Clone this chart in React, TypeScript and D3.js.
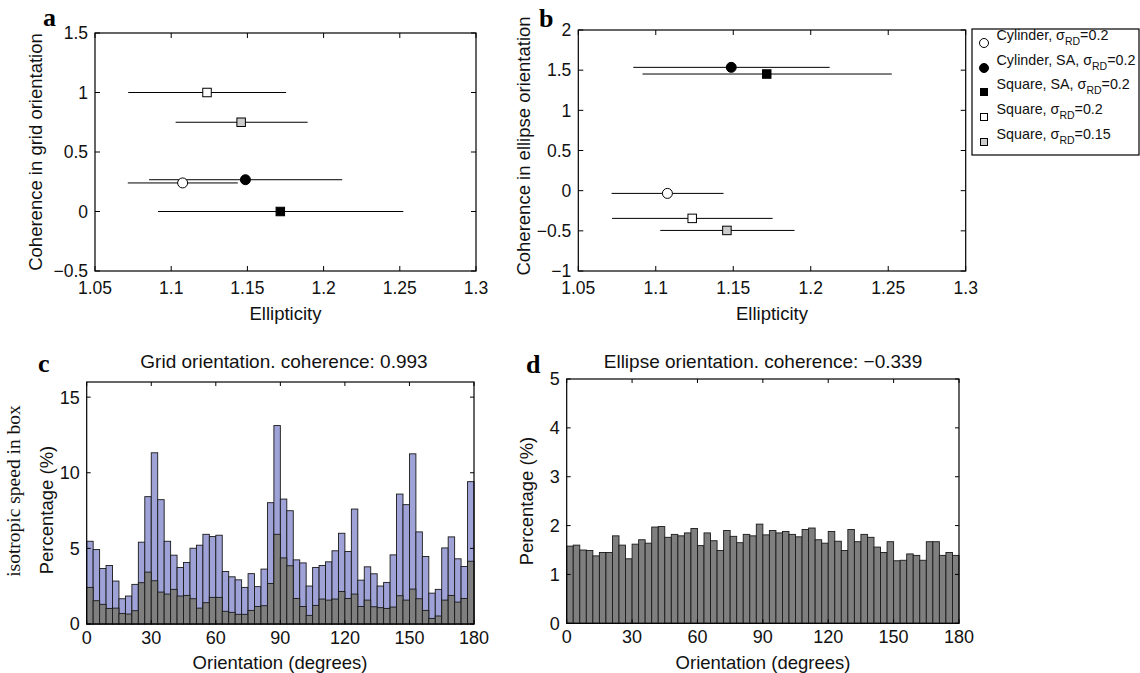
import React from 'react';
import * as d3 from 'd3';

// ---------- Panels a & b data ----------
const seriesNames = ['Cylinder, ', 'Cylinder, SA, ', 'Square, SA, ', 'Square, ', 'Square, '];
const sigmaLabels = ['0.2', '0.2', '0.2', '0.2', '0.15'];
const markerShapes = ['circle', 'circle', 'square', 'square', 'square'];
const markerFills = ['#ffffff', '#000000', '#000000', '#ffffff', '#cccccc'];
const ellipticity = [1.1075, 1.1487, 1.1716, 1.1235, 1.1459];
const ellipticityLow = [1.0715, 1.0855, 1.0914, 1.0718, 1.1029];
const ellipticityHigh = [1.1437, 1.2122, 1.2523, 1.1754, 1.1895];
const gridCoherence = [0.24, 0.267, 0.0, 1.0, 0.75];
const ellipseCoherence = [-0.034, 1.535, 1.452, -0.345, -0.495];

const ellipticityTicks = [1.05, 1.1, 1.15, 1.2, 1.25, 1.3];
const gridCoherenceTicks = [-0.5, 0, 0.5, 1, 1.5];
const ellipseCoherenceTicks = [-1, -0.5, 0, 0.5, 1, 1.5, 2];

// ---------- Panels c & d data ----------
const orientationTicks = [0, 30, 60, 90, 120, 150, 180];
const binWidth = 3;
const binStarts = d3.range(0, 180, binWidth);
const gridPercentAll = [
  5.47, 4.92, 3.67, 3.87, 2.84, 1.67, 1.85, 2.62, 5.41, 8.42,
  11.32, 8.22, 5.47, 4.55, 3.74, 4.07, 5.01, 5.21, 5.93, 5.78,
  5.87, 3.47, 3.12, 2.92, 2.42, 3.33, 2.47, 3.63, 8.02, 13.12,
  8.26, 7.49, 4.24, 4.04, 2.51, 3.74, 3.87, 4.11, 4.84, 6.0,
  4.79, 7.6, 2.9, 3.78, 3.32, 2.51, 2.75, 4.57, 8.59, 7.89,
  11.25, 6.09, 4.46, 2.04, 2.29, 5.03, 5.76, 4.31, 3.8, 9.41,
];
const gridPercentIso = [
  2.42, 1.54, 1.3, 1.03, 1.05, 0.7, 0.66, 0.88, 2.73, 3.43,
  2.86, 2.11, 1.98, 2.29, 1.85, 1.89, 1.67, 1.05, 1.41, 1.76,
  1.76, 0.84, 0.77, 0.64, 0.64, 0.9, 1.16, 1.21, 2.68, 5.93,
  4.37, 3.85, 1.69, 1.16, 0.57, 1.23, 1.65, 1.58, 1.65, 2.15,
  1.69, 1.98, 1.16, 1.58, 1.14, 1.08, 1.03, 1.12, 1.87, 1.58,
  2.31, 1.67, 0.9, 0.37, 0.53, 1.58, 1.89, 1.45, 1.69, 4.15,
];
const ellipsePercent = [
  1.58, 1.6, 1.5, 1.49, 1.38, 1.45, 1.45, 1.79, 1.6, 1.32,
  1.62, 1.71, 1.64, 1.97, 1.98, 1.76, 1.82, 1.79, 1.85, 1.94,
  1.59, 1.85, 1.69, 1.49, 1.9, 1.78, 1.65, 1.82, 1.79, 2.03,
  1.81, 1.9, 1.85, 1.88, 1.82, 1.77, 1.92, 1.95, 1.71, 1.64,
  1.88, 1.68, 1.49, 1.92, 1.67, 1.82, 1.76, 1.56, 1.45, 1.67,
  1.28, 1.29, 1.42, 1.39, 1.29, 1.67, 1.67, 1.39, 1.45, 1.39,
];
const gridTicksY = [0, 5, 10, 15];
const ellipseTicksY = [0, 1, 2, 3, 4, 5];

const SANS = 'Helvetica, Arial, "Liberation Sans", sans-serif';
const SERIF = '"Times New Roman", "Liberation Serif", serif';

const fmt = (v: number) => String(v).replace('-', '\u2212');

function Marker({ shape, fill, cx, cy, size }: any) {
  if (shape === 'circle') {
    return <circle cx={cx} cy={cy} r={size / 2} fill={fill} stroke="#000" strokeWidth={1} />;
  }
  return (
    <rect x={cx - size / 2} y={cy - size / 2} width={size} height={size} fill={fill} stroke="#000" strokeWidth={1} />
  );
}

function Frame({ x, y, tickLen, xTicks, yTicks, xFont, yFont, xLabelGap }: any) {
  const [x0, x1] = x.range();
  const [y1, y0] = y.range();
  return (
    <g>
      {xTicks.map((t: number) => (
        <g key={'xt' + t}>
          <line x1={x(t)} x2={x(t)} y1={y1} y2={y1 - tickLen} stroke="#000" />
          <line x1={x(t)} x2={x(t)} y1={y0} y2={y0 + tickLen} stroke="#000" />
          <text x={x(t)} y={y1 + xLabelGap} textAnchor="middle" fontSize={xFont} fontFamily={SANS} fill="#111">
            {fmt(t)}
          </text>
        </g>
      ))}
      {yTicks.map((t: number) => (
        <g key={'yt' + t}>
          <line x1={x0} x2={x0 + tickLen} y1={y(t)} y2={y(t)} stroke="#000" />
          <line x1={x1} x2={x1 - tickLen} y1={y(t)} y2={y(t)} stroke="#000" />
          <text x={x0 - 7} y={y(t)} dy="0.36em" textAnchor="end" fontSize={yFont} fontFamily={SANS} fill="#111">
            {fmt(t)}
          </text>
        </g>
      ))}
      <rect x={x0} y={y0} width={x1 - x0} height={y1 - y0} fill="none" stroke="#000" strokeWidth={1.2} />
    </g>
  );
}

function ScatterPanel({ left, right, top, bottom, yDomain, yTicks, yValues }: any) {
  const x = d3.scaleLinear().domain([1.05, 1.3]).range([left, right]);
  const y = d3.scaleLinear().domain(yDomain).range([bottom, top]);
  return (
    <g>
      {yValues.map((v: number, i: number) => (
        <line key={'eb' + i} x1={x(ellipticityLow[i])} x2={x(ellipticityHigh[i])} y1={y(v)} y2={y(v)} stroke="#000" strokeWidth={1} />
      ))}
      {yValues.map((v: number, i: number) => (
        <Marker key={'m' + i} shape={markerShapes[i]} fill={markerFills[i]} cx={x(ellipticity[i])} cy={y(v)} size={markerShapes[i] === 'circle' ? 10 : 8.5} />
      ))}
      <Frame x={x} y={y} tickLen={5} xTicks={ellipticityTicks} yTicks={yTicks} xFont={17.5} yFont={17.5} xLabelGap={23} />
    </g>
  );
}

function HistPanel({ left, right, top, bottom, yMax, yTicks, layers }: any) {
  const x = d3.scaleLinear().domain([0, 180]).range([left, right]);
  const y = d3.scaleLinear().domain([0, yMax]).range([bottom, top]);
  return (
    <g>
      {layers.map((layer: any, li: number) => (
        <g key={'l' + li}>
          {layer.values.map((v: number, i: number) => (
            <rect
              key={i}
              x={x(binStarts[i])}
              y={y(v)}
              width={x(binStarts[i] + binWidth) - x(binStarts[i])}
              height={y(0) - y(v)}
              fill={layer.color}
              stroke="#1a1a1a"
              strokeWidth={0.9}
            />
          ))}
        </g>
      ))}
      <Frame x={x} y={y} tickLen={4} xTicks={orientationTicks} yTicks={yTicks} xFont={18} yFont={18} xLabelGap={19.5} />
    </g>
  );
}

export default function App() {
  const legendX = 972;
  const legendY = 29;
  const legendRows = [43, 68, 92, 117, 142];
  return (
    <svg width={1140} height={673} style={{ position: 'absolute', left: 0, top: 0, background: '#fff' }}>
      <rect width={1140} height={673} fill="#fff" />
      {/* Panel a */}
      <ScatterPanel left={95} right={476} top={33} bottom={271} yDomain={[-0.5, 1.5]} yTicks={gridCoherenceTicks} yValues={gridCoherence} />
      <text x={43} y={26} fontFamily={SERIF} fontWeight="bold" fontSize={26}>a</text>
      <text transform="translate(41.5,152) rotate(-90)" textAnchor="middle" fontFamily={SANS} fontSize={18.5} fill="#111">
        Coherence in grid orientation
      </text>
      <text x={285.5} y={320} textAnchor="middle" fontFamily={SANS} fontSize={18.5} fill="#111">Ellipticity</text>

      {/* Panel b */}
      <ScatterPanel left={578.3} right={965.7} top={30} bottom={271} yDomain={[-1, 2]} yTicks={ellipseCoherenceTicks} yValues={ellipseCoherence} />
      <text x={539} y={27} fontFamily={SERIF} fontWeight="bold" fontSize={26}>b</text>
      <text transform="translate(530,146) rotate(-90)" textAnchor="middle" fontFamily={SANS} fontSize={18.5} fill="#111">
        Coherence in ellipse orientation
      </text>
      <text x={772} y={320} textAnchor="middle" fontFamily={SANS} fontSize={18.5} fill="#111">Ellipticity</text>

      {/* Legend */}
      <rect x={legendX} y={legendY} width={167} height={126} fill="#fff" stroke="#000" strokeWidth={1.2} />
      {seriesNames.map((name, i) => (
        <g key={'lg' + i}>
          <Marker shape={markerShapes[i]} fill={markerFills[i]} cx={984} cy={legendRows[i]} size={markerShapes[i] === 'circle' ? 9 : 7} />
          <text x={996.5} y={legendRows[i] - 3} fontFamily={SANS} fontSize={14.3} fill="#111">
            {name}σ
            <tspan fontSize={10.5} dy={5}>RD</tspan>
            <tspan dy={-5}>={sigmaLabels[i]}</tspan>
          </text>
        </g>
      ))}

      {/* Panel c */}
      <HistPanel
        left={86.7}
        right={474}
        top={382}
        bottom={624}
        yMax={16}
        yTicks={gridTicksY}
        layers={[
          { values: gridPercentAll, color: '#9ea2d6' },
          { values: gridPercentIso, color: '#7f7f7f' },
        ]}
      />
      <text x={38} y={372} fontFamily={SERIF} fontWeight="bold" fontSize={26}>c</text>
      <text x={284} y={368} textAnchor="middle" fontFamily={SANS} fontSize={19} fill="#111">
        Grid orientation. coherence: 0.993
      </text>
      <text transform="translate(53,510) rotate(-90)" textAnchor="middle" fontFamily={SANS} fontSize={18.5} fill="#111">
        Percentage (%)
      </text>
      <text transform="translate(20,491) rotate(-90)" textAnchor="middle" fontFamily={SERIF} fontSize={19.5} fill="#111">
        isotropic speed in box
      </text>
      <text x={280} y={669} textAnchor="middle" fontFamily={SANS} fontSize={18.5} fill="#111">Orientation (degrees)</text>

      {/* Panel d */}
      <HistPanel
        left={566.7}
        right={959}
        top={379}
        bottom={623.3}
        yMax={5}
        yTicks={ellipseTicksY}
        layers={[{ values: ellipsePercent, color: '#7f7f7f' }]}
      />
      <text x={526} y={373} fontFamily={SERIF} fontWeight="bold" fontSize={26}>d</text>
      <text x={763} y={368} textAnchor="middle" fontFamily={SANS} fontSize={19} fill="#111">
        Ellipse orientation. coherence: {'\u2212'}0.339
      </text>
      <text transform="translate(533,501) rotate(-90)" textAnchor="middle" fontFamily={SANS} fontSize={18.5} fill="#111">
        Percentage (%)
      </text>
      <text x={763} y={669} textAnchor="middle" fontFamily={SANS} fontSize={18.5} fill="#111">Orientation (degrees)</text>
    </svg>
  );
}
